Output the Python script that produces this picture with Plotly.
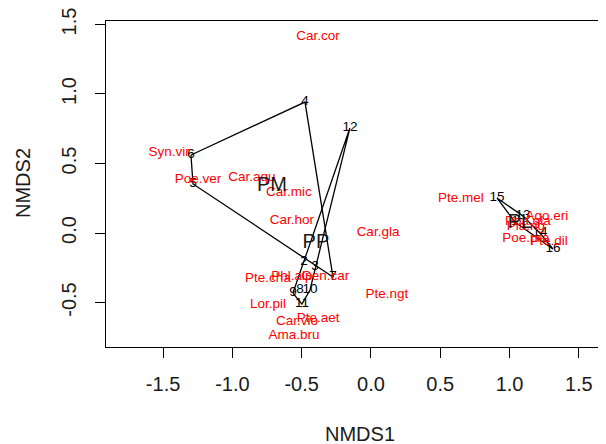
import plotly.graph_objects as go

# ---- data ----
site_ids = ["1", "2", "3", "4", "5", "6", "7", "8", "9", "10", "11", "12", "13", "14", "15", "16"]
site_x = [1.039, -0.484, -0.404, -0.476, -1.284, -1.299, -0.274, -0.512, -0.563, -0.440, -0.498, -0.152, 1.097, 1.219, 0.909, 1.313]
site_y = [0.079, -0.209, -0.245, 0.942, 0.353, 0.561, -0.317, -0.410, -0.432, -0.410, -0.511, 0.755, 0.122, 0.000, 0.252, -0.115]
site_group = ["PL", "PP", "PP", "PM", "PM", "PM", "PM", "PP", "PP", "PP", "PP", "PP", "PL", "PL", "PL", "PL"]

group_names = ["PM", "PP", "PL"]
group_label_x = [-0.714, -0.397, 1.075]
group_label_y = [0.338, -0.072, 0.072]

species = ["Car.cor", "Syn.vir", "Poe.ver", "Car.aqu", "Car.mic", "Car.hor", "Car.gla",
           "Pte.mel", "Ago.eri", "Poa.gla", "Pla.rig", "Poe.pra", "Pte.dil", "Pte.ngt",
           "Pte.cha", "Phl.alp", "Gen.car", "Lor.pil", "Car.vio", "Pte.aet", "Ama.bru"]
species_x = [-0.382, -1.457, -1.248, -0.859, -0.592, -0.570, 0.051,
             0.649, 1.270, 1.133, 1.118, 1.118, 1.284, 0.115,
             -0.743, -0.570, -0.330, -0.743, -0.534, -0.382, -0.556]
species_y = [1.410, 0.576, 0.381, 0.396, 0.288, 0.086, 0.000,
             0.245, 0.115, 0.079, 0.043, -0.043, -0.065, -0.446,
             -0.331, -0.317, -0.317, -0.518, -0.640, -0.619, -0.741]

x_ticks = [-1.5, -1.0, -0.5, 0.0, 0.5, 1.0, 1.5]
y_ticks = [-0.5, 0.0, 0.5, 1.0, 1.5]

FONT = "Liberation Sans, Arial, sans-serif"


def convex_hull(pts):
    pts = sorted(set(pts))
    if len(pts) <= 2:
        return pts

    def cross(o, a, b):
        return (a[0] - o[0]) * (b[1] - o[1]) - (a[1] - o[1]) * (b[0] - o[0])

    lower, upper = [], []
    for p in pts:
        while len(lower) >= 2 and cross(lower[-2], lower[-1], p) <= 0:
            lower.pop()
        lower.append(p)
    for p in reversed(pts):
        while len(upper) >= 2 and cross(upper[-2], upper[-1], p) <= 0:
            upper.pop()
        upper.append(p)
    return lower[:-1] + upper[:-1]


fig = go.Figure()

# hulls
for g in group_names:
    pts = [(x, y) for x, y, gg in zip(site_x, site_y, site_group) if gg == g]
    hull = convex_hull(pts)
    hull = hull + [hull[0]]
    fig.add_trace(go.Scatter(
        x=[p[0] for p in hull], y=[p[1] for p in hull], mode="lines",
        line=dict(color="black", width=1.3), hoverinfo="skip", showlegend=False))

# site labels
fig.add_trace(go.Scatter(
    x=site_x, y=site_y, mode="text", text=site_ids,
    textfont=dict(family=FONT, size=13.5, color="black"),
    textposition="middle center", showlegend=False))

# species labels
fig.add_trace(go.Scatter(
    x=species_x, y=species_y, mode="text", text=species,
    textfont=dict(family=FONT, size=13.5, color="#ff0000"),
    textposition="middle center", showlegend=False))

# group labels
fig.add_trace(go.Scatter(
    x=group_label_x, y=group_label_y, mode="text", text=group_names,
    textfont=dict(family=FONT, size=20, color="#1a1a1a"),
    textposition="middle center", showlegend=False))

# The page body has an 8px margin, so the figure is shrunk by 8px and its
# margins reduced so the plot area lands where the reference has it.
fig.update_layout(
    width=598, height=436,
    margin=dict(l=98, r=0, t=13, b=97),
    paper_bgcolor="white", plot_bgcolor="white",
    font=dict(family=FONT, size=20, color="#1a1a1a"),
    showlegend=False,
    xaxis=dict(range=[-1.912, 1.696], tickvals=x_ticks,
               ticktext=[f"{v:.1f}" for v in x_ticks],
               showgrid=False, zeroline=False,
               showline=True, mirror=True, linecolor="black", linewidth=1.3,
               ticks="outside", ticklen=10, tickwidth=1.3, tickcolor="black",
               ticklabelstandoff=9, ticklabeloverflow="allow",
               tickfont=dict(family=FONT, size=20, color="#1a1a1a")),
    yaxis=dict(range=[-0.820, 1.525], tickvals=y_ticks,
               ticktext=[f"{v:.1f}" for v in y_ticks],
               showgrid=False, zeroline=False,
               showline=True, mirror=False, linecolor="black", linewidth=1.3,
               ticks="outside", ticklen=10, tickwidth=1.3, tickcolor="black",
               tickangle=-90, ticklabelstandoff=11, ticklabeloverflow="allow",
               tickfont=dict(family=FONT, size=20, color="#1a1a1a")),
    annotations=[
        dict(text="NMDS1", xref="paper", yref="paper",
             x=(360 - 106) / 500, y=(347 - 434) / 326,
             xanchor="center", yanchor="middle", showarrow=False,
             font=dict(family=FONT, size=20, color="#1a1a1a")),
        dict(text="NMDS2", xref="paper", yref="paper",
             x=(23 - 106) / 500, y=(347 - 183) / 326, textangle=-90,
             xanchor="center", yanchor="middle", showarrow=False,
             font=dict(family=FONT, size=20, color="#1a1a1a")),
    ],
)

fig.write_html("out.html")
